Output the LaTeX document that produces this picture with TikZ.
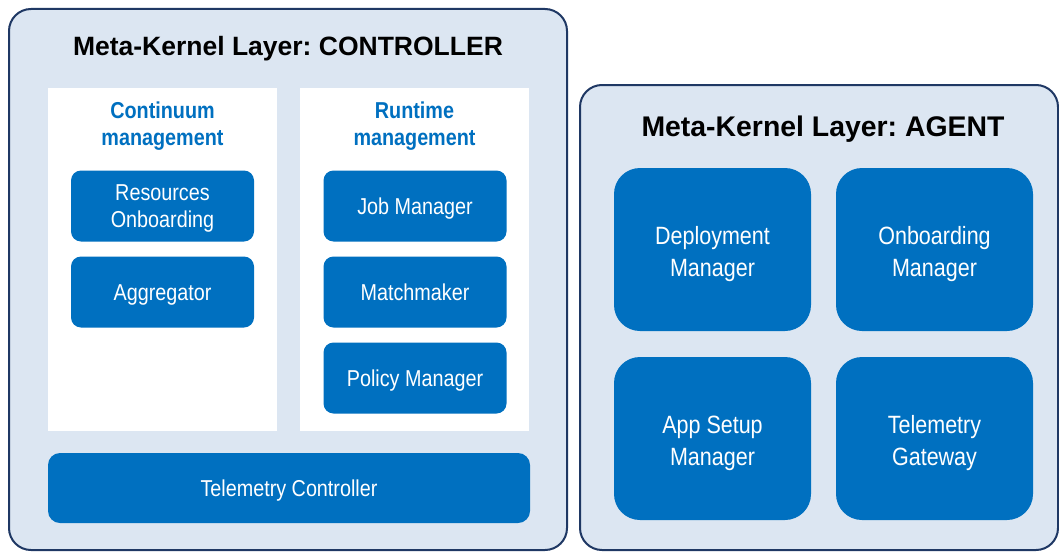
\documentclass[tikz,border=0pt]{standalone}
\usepackage{fontspec}
\setmainfont{Liberation Sans}
\newfontfamily\boxfont[FakeStretch=0.86]{Liberation Sans}
\frenchspacing
\definecolor{panelbg}{HTML}{DCE6F2}
\definecolor{layernavy}{HTML}{1F3864}
\definecolor{modblue}{HTML}{0070C0}
\tikzset{
  layer/.style={draw=layernavy, line width=2pt, fill=panelbg, rounded corners=22pt, inner sep=0pt},
  group/.style={fill=white, inner sep=0pt, minimum width=229pt, minimum height=343pt},
  % text boxes are centred on the capital height of the lines
  module/.style={fill=modblue, rounded corners=10pt, inner sep=0pt, text=white, align=center,
    minimum width=183pt, minimum height=71pt, font=\boxfont\fontsize{23}{27}\selectfont,
    text height=16.5pt, text depth=0pt},
  twoline/.style={text height=43.5pt},
  agentmod/.style={fill=modblue, rounded corners=26pt, inner sep=0pt, text=white, align=center,
    minimum width=197pt, minimum height=163pt, font=\boxfont\fontsize{25}{32}\selectfont,
    text height=53.5pt, text depth=0pt},
  grouphead/.style={text=modblue, align=center, inner sep=0pt,
    font=\boxfont\bfseries\fontsize{23}{27}\selectfont, text height=43.5pt, text depth=0pt},
  layertitle/.style={text=black, inner sep=0pt, text depth=0pt}
}
\begin{document}
\begin{tikzpicture}[x=1pt,y=-1pt]
\useasboundingbox (0,0) rectangle (1059,551);
\fill[white] (0,0) rectangle (1059,551);

% Controller layer
\node[layer, minimum width=558pt, minimum height=541pt] (ctrl) at (288,279.5) {};
\node[layertitle, font=\bfseries\fontsize{26.5}{30}\selectfont, text height=19pt] (ctrltitle) at (288,46) {Meta-Kernel Layer: CONTROLLER};

\node[group] (contgrp) at (162.5,259.5) {};
\node[group] (rungrp) at (414.5,259.5) {};
\node[grouphead] (conthead) at (162.5,123.5) {Continuum\\management};
\node[grouphead] (runhead) at (414.5,123.5) {Runtime\\management};

\node[module, twoline] (onboard) at (162.5,206) {Resources\\Onboarding};
\node[module] (aggr) at (162.5,292) {Aggregator};
\node[module] (jobmgr) at (415,206) {Job Manager};
\node[module] (match) at (415,292) {Matchmaker};
\node[module] (policy) at (415,378) {Policy Manager};

\node[module, minimum width=482pt, minimum height=70pt, rounded corners=12pt] (telctrl) at (289,488) {Telemetry Controller};

% Agent layer
\node[layer, minimum width=478pt, minimum height=465pt] (agent) at (819,317.5) {};
\node[layertitle, font=\bfseries\fontsize{28.4}{32}\selectfont, text height=20.3pt] (agenttitle) at (823,126) {Meta-Kernel Layer: AGENT};

\node[agentmod] (deploy) at (712.5,249.5) {Deployment\\Manager};
\node[agentmod] (onbmgr) at (934.5,249.5) {Onboarding\\Manager};
\node[agentmod] (appsetup) at (712.5,438.5) {App Setup\\Manager};
\node[agentmod] (telgw) at (934.5,438.5) {Telemetry\\Gateway};
\end{tikzpicture}
\end{document}
